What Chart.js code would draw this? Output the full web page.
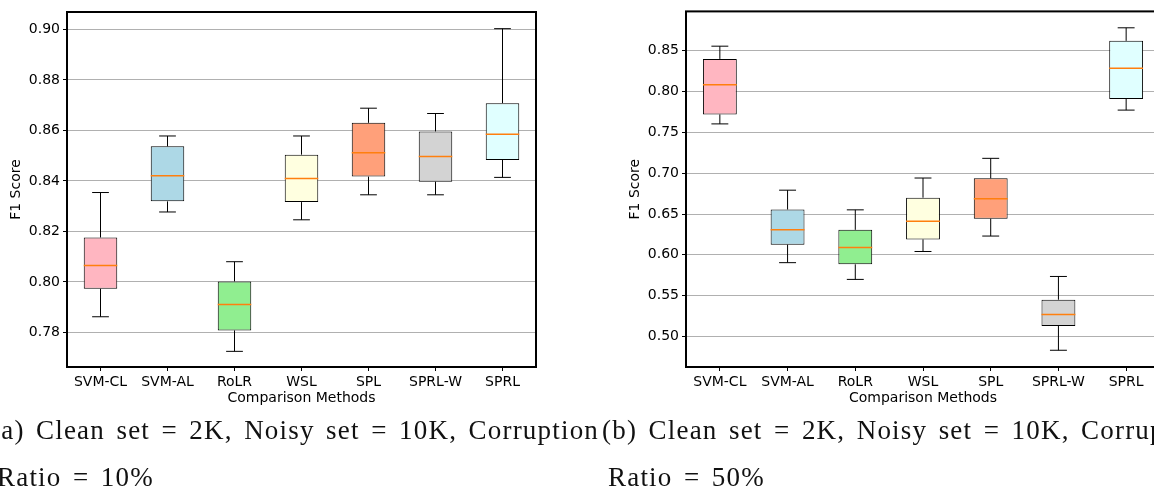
<!DOCTYPE html>
<html>
<head>
<meta charset="utf-8">
<script src="https://cdn.jsdelivr.net/npm/chart.js@4.4.0/dist/chart.umd.min.js"></script>
<style>
  html, body { margin: 0; padding: 0; background: #fff; overflow: hidden; width: 1154px; height: 489px; }
  .panel { position: absolute; top: 0; height: 411px; }
  .cap { position: absolute; top: 407px; font-family: "Liberation Serif", serif; font-size: 27px; line-height: 47px; letter-spacing: 1.2px; word-spacing: 3.5px; color: #111; white-space: nowrap; }
  .cap span { display: block; padding-left: 6px; }
</style>
</head>
<body>
<div class="panel" style="left:0; width:540px;"><canvas id="chart10"></canvas></div>
<div class="panel" style="left:600px; width:560px;"><canvas id="chart50"></canvas></div>
<div class="cap" style="left:-9px;">(a) Clean set = 2K, Noisy set = 10K, Corruption<span>Ratio = 10%</span></div>
<div class="cap" style="left:602px;">(b) Clean set = 2K, Noisy set = 10K, Corruption<span>Ratio = 50%</span></div>
<script>
const methods = ["SVM-CL", "SVM-AL", "RoLR", "WSL", "SPL", "SPRL-W", "SPRL"];
const boxColors = ["#ffb6c1", "#add8e6", "#90ee90", "#ffffe0", "#ffa07a", "#d3d3d3", "#e0ffff"];

// corruption ratio 10%
const lo10  = [0.7862, 0.8277, 0.7725, 0.8246, 0.8345, 0.8345, 0.8414];
const q1_10 = [0.7973, 0.8319, 0.7808, 0.8316, 0.8417, 0.8397, 0.8483];
const med10 = [0.8065, 0.8420, 0.7911, 0.8410, 0.8512, 0.8497, 0.8585];
const q3_10 = [0.8176, 0.8537, 0.8002, 0.8504, 0.8630, 0.8596, 0.8708];
const hi10  = [0.8354, 0.8578, 0.8080, 0.8578, 0.8688, 0.8667, 0.9003];
const ticks10 = [0.78, 0.80, 0.82, 0.84, 0.86, 0.88, 0.90];

// corruption ratio 50%
const lo50  = [0.7604, 0.5904, 0.5699, 0.6041, 0.6230, 0.4831, 0.7773];
const q1_50 = [0.7720, 0.6125, 0.5884, 0.6189, 0.6443, 0.5129, 0.7909];
const med50 = [0.8082, 0.6306, 0.6089, 0.6410, 0.6688, 0.5269, 0.8287];
const q3_50 = [0.8400, 0.6555, 0.6306, 0.6700, 0.6937, 0.5450, 0.8621];
const hi50  = [0.8556, 0.6792, 0.6551, 0.6941, 0.7182, 0.5735, 0.8781];
const ticks50 = [0.50, 0.55, 0.60, 0.65, 0.70, 0.75, 0.80, 0.85];

const font = { family: "'DejaVu Sans', sans-serif", size: 14 };

// whiskers, caps, medians and the frame, drawn through the chart's scales
const boxPlot = {
  id: "boxPlot",
  afterDatasetsDraw(chart) {
    const st = chart.options.plugins.boxPlot;
    const ctx = chart.ctx, x = chart.scales.x, y = chart.scales.y;
    const bars = chart.getDatasetMeta(0).data;
    ctx.save();
    st.med.forEach((m, i) => {
      const cx = x.getPixelForValue(i);
      const hw = bars[i].width / 2;
      ctx.strokeStyle = "#000";
      ctx.lineWidth = 1;
      ctx.beginPath();
      ctx.moveTo(cx, y.getPixelForValue(st.q3[i]));
      ctx.lineTo(cx, y.getPixelForValue(st.hi[i]));
      ctx.moveTo(cx, y.getPixelForValue(st.q1[i]));
      ctx.lineTo(cx, y.getPixelForValue(st.lo[i]));
      ctx.moveTo(cx - hw / 2, y.getPixelForValue(st.hi[i]));
      ctx.lineTo(cx + hw / 2, y.getPixelForValue(st.hi[i]));
      ctx.moveTo(cx - hw / 2, y.getPixelForValue(st.lo[i]));
      ctx.lineTo(cx + hw / 2, y.getPixelForValue(st.lo[i]));
      ctx.stroke();
      ctx.strokeStyle = "#ff7f0e";
      ctx.lineWidth = 1.5;
      ctx.beginPath();
      ctx.moveTo(cx - hw, y.getPixelForValue(m));
      ctx.lineTo(cx + hw, y.getPixelForValue(m));
      ctx.stroke();
    });
    const a = chart.chartArea;
    ctx.strokeStyle = "#000";
    ctx.lineWidth = 2;
    ctx.strokeRect(a.left, a.top, a.right - a.left, a.bottom - a.top);
    ctx.restore();
  }
};

function makeChart(id, lo, q1, med, q3, hi, tickVals, yMin, yMax, opts) {
  new Chart(document.getElementById(id), {
    type: "bar",
    data: {
      labels: methods,
      datasets: [{
        data: methods.map((m, i) => [q1[i], q3[i]]),
        backgroundColor: boxColors,
        borderColor: "#000",
        borderWidth: 1,
        borderSkipped: false,
        categoryPercentage: 1,
        barPercentage: 0.5,
      }],
    },
    options: {
      responsive: true,
      maintainAspectRatio: false,
      animation: false,
      layout: { padding: { top: opts.top, right: opts.right, left: 0, bottom: 0 } },
      plugins: {
        legend: { display: false },
        tooltip: { enabled: false },
        boxPlot: { lo, q1, med, q3, hi },
      },
      scales: {
        x: {
          grid: { offset: false, drawOnChartArea: false, tickLength: 4, tickColor: "#000" },
          border: { display: false },
          ticks: { color: "#000", font, padding: 3, maxRotation: 0, autoSkip: false },
          title: { display: true, text: "Comparison Methods", color: "#000", font, padding: { top: 2, bottom: 4 } },
          afterFit(s) { s.height = 44; },
        },
        y: {
          min: yMin,
          max: yMax,
          grid: { color: "#b0b0b0", lineWidth: 1, tickLength: 4, tickColor: "#000" },
          border: { display: false },
          ticks: { color: "#000", font, padding: 3, callback: (v) => v.toFixed(2) },
          title: { display: true, text: "F1 Score", color: "#000", font, padding: { top: opts.titlePad, bottom: 0 } },
          afterBuildTicks(s) { s.ticks = tickVals.map((v) => ({ value: v })); },
          afterFit(s) { s.width = opts.yWidth; },
        },
      },
    },
    plugins: [boxPlot],
  });
}

makeChart("chart10", lo10, q1_10, med10, q3_10, hi10, ticks10, 0.7663, 0.9069,
  { top: 12, right: 4, yWidth: 67, titlePad: 8 });
makeChart("chart50", lo50, q1_50, med50, q3_50, hi50, ticks50, 0.4626, 0.8982,
  { top: 6, right: 0, yWidth: 86, titlePad: 27 });
</script>
</body>
</html>
